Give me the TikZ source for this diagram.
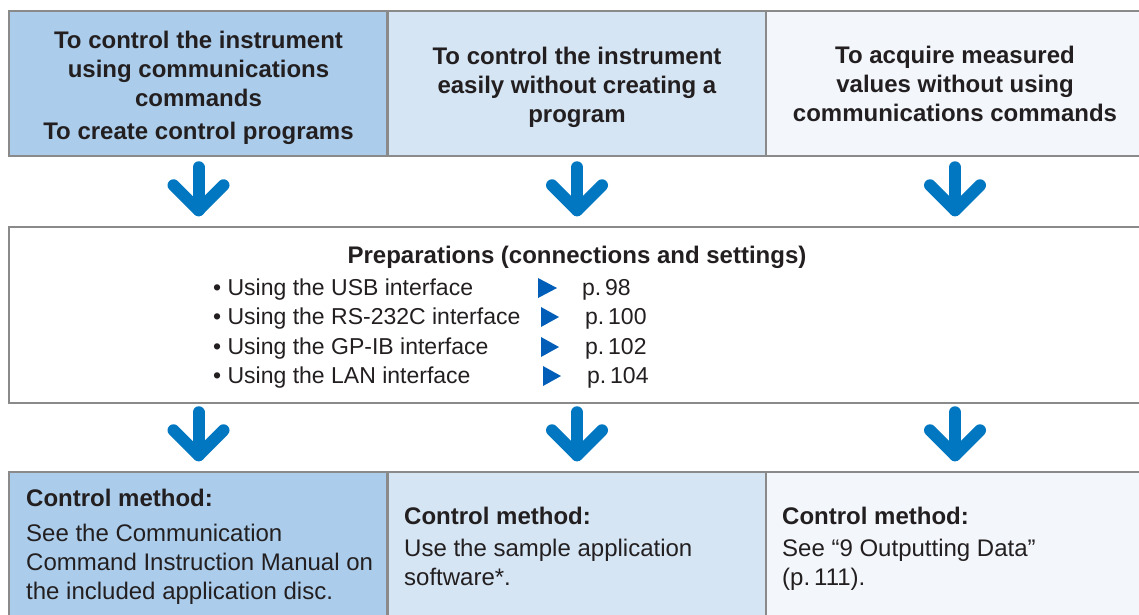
\documentclass[tikz,border=0pt]{standalone}
\usepackage{fontspec}
\setmainfont{Liberation Sans}
\usepackage{xcolor}
\definecolor{usedark}{HTML}{231F20}
\definecolor{useframe}{HTML}{8A8A8A}
\definecolor{useblue}{HTML}{0077C0}
\definecolor{pageblue}{HTML}{005EB8}
\definecolor{fillA}{HTML}{ABCDEB}
\definecolor{fillB}{HTML}{D5E5F4}
\definecolor{fillC}{HTML}{F3F7FC}
\usepackage{tikz}
\usetikzlibrary{positioning, calc}

\begin{document}
\begin{tikzpicture}[
  x=1pt, y=-1pt,
  every node/.style={font=\fontsize{24}{29}\selectfont, text=usedark, inner sep=0pt},
  cell/.style={draw=useframe, line width=2.5pt, minimum width=#1, align=center},
  usebox/.style={cell=379pt, minimum height=145pt},
  methodbox/.style={cell=379pt, minimum height=159pt},
  bodytext/.style={anchor=north west, align=left},
  item/.style={anchor=west, font=\fontsize{23}{29}\selectfont},
  downarrow/.style={useblue, line width=12pt, line cap=round, line join=round},
  pagetri/.style={fill=pageblue}
]
\useasboundingbox (0,0) rectangle (1139,614);

% Uses (top row)
\node[usebox, fill=fillA] (t1) at (198.5,83.5) {};
\node at (198.5,88) (t1txt)
  {\begin{tabular}{@{}c@{}}\textbf{To control the instrument}\\\textbf{using communications}\\\textbf{commands}\\[4pt]\textbf{To create control programs}\end{tabular}};
\node[usebox, fill=fillB] (t2) at (577,83.5) {};
\node at (577,87.5) (t2txt)
  {\begin{tabular}{@{}c@{}}\textbf{To control the instrument}\\\textbf{easily without creating a}\\\textbf{program}\end{tabular}};
\node[usebox, fill=fillC, minimum width=390pt] (t3) at (961,83.5) {};
\node at (955,87) (t3txt)
  {\begin{tabular}{@{}c@{}}\textbf{To acquire measured}\\\textbf{values without using}\\\textbf{communications commands}\end{tabular}};

% Preparations
\node[cell=1150pt, minimum height=176pt, fill=white] (prep) at (584,315) {};
\node at (577,257) (ptitle) {\textbf{Preparations (connections and settings)}};
\node[item] at (213,290) (usb) {\textbullet\ Using the USB interface};
\node[item] at (213,319) (rs) {\textbullet\ Using the RS-232C interface};
\node[item] at (213,349) (gp) {\textbullet\ Using the GP-IB interface};
\node[item] at (213,378) (lan) {\textbullet\ Using the LAN interface};
\node[item] at (582,290) (pusb) {p.\,98};
\node[item] at (585,319) (prs) {p.\,100};
\node[item] at (585,349) (pgp) {p.\,102};
\node[item] at (587,378) (plan) {p.\,104};

% Page markers
\fill[pagetri] (538,278) -- (557,288) -- (538,298) -- cycle;
\fill[pagetri] (541,307) -- (559,317) -- (541,327) -- cycle;
\fill[pagetri] (541,337) -- (559,347) -- (541,357) -- cycle;
\fill[pagetri] (543,366) -- (561,376) -- (543,386) -- cycle;

% Control methods (bottom row)
\node[methodbox, fill=fillA] (b1) at (198.5,551.5) {};
\node[methodbox, fill=fillB] (b2) at (577,551.5) {};
\node[methodbox, fill=fillC, minimum width=390pt] (b3) at (961,551.5) {};
\node[bodytext] at (26,489) (m1)
  {\textbf{Control method:}\\[6pt]See the Communication\\Command Instruction Manual on\\the included application disc.};
\node[bodytext] at (404,507) (m2)
  {\textbf{Control method:}\\[3pt]Use the sample application\\software*.};
\node[bodytext] at (782,507) (m3)
  {\textbf{Control method:}\\[3pt]See “9 Outputting Data”\\(p.\,111).};

% Arrows
\draw[downarrow] ([yshift=-10pt]t1.south) -- ++(0,43) coordinate (v1);
\draw[downarrow] ([shift={(-25,-25)}]v1) -- (v1) -- ([shift={(25,-25)}]v1);
\draw[downarrow] ([yshift=-10pt]t2.south) -- ++(0,43) coordinate (v2);
\draw[downarrow] ([shift={(-25,-25)}]v2) -- (v2) -- ([shift={(25,-25)}]v2);
\draw[downarrow] ([yshift=-10pt]t3txt.south |- t3.south) -- ++(0,43) coordinate (v3);
\draw[downarrow] ([shift={(-25,-25)}]v3) -- (v3) -- ([shift={(25,-25)}]v3);

\draw[downarrow] ([yshift=-8pt]t1.south |- prep.south) -- ++(0,43) coordinate (w1);
\draw[downarrow] ([shift={(-25,-25)}]w1) -- (w1) -- ([shift={(25,-25)}]w1);
\draw[downarrow] ([yshift=-8pt]t2.south |- prep.south) -- ++(0,43) coordinate (w2);
\draw[downarrow] ([shift={(-25,-25)}]w2) -- (w2) -- ([shift={(25,-25)}]w2);
\draw[downarrow] ([yshift=-8pt]t3txt.south |- prep.south) -- ++(0,43) coordinate (w3);
\draw[downarrow] ([shift={(-25,-25)}]w3) -- (w3) -- ([shift={(25,-25)}]w3);

\end{tikzpicture}
\end{document}
